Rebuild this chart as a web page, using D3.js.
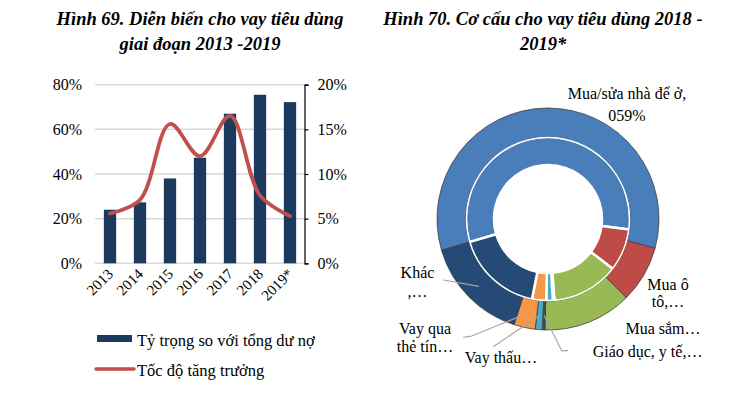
<!DOCTYPE html>
<html><head><meta charset="utf-8">
<script src="https://cdn.jsdelivr.net/npm/d3@7/dist/d3.min.js"></script>
<style>
body{margin:0;background:#fff;}
svg{display:block;font-family:"Liberation Serif","Times New Roman",serif;}
</style></head>
<body><svg id="c" width="750" height="403"></svg>
<script>
// ---------- data ----------
const years = ["2013","2014","2015","2016","2017","2018","2019*"];
const shareValues = [24, 27.3, 38, 47.3, 67, 75.5, 72.2];      // % of total credit (left axis)
const growthValues = [5.6, 7.1, 15.6, 12.0, 16.5, 7.6, 5.3];   // growth rate (right axis)
const leftTicks = [0, 20, 40, 60, 80];
const rightTicks = [0, 5, 10, 15, 20];
const seriesNames = ["Tỷ trọng so với tổng dư nợ", "Tốc độ tăng trưởng"];

const segments = ["Mua/sửa nhà để ở","Mua ô tô","Mua sắm","Giáo dục, y tế","Vay thấu chi","Vay qua thẻ tín dụng","Khác"];
const outer2019 = [58.8, 8.3, 12.9, 0.4, 1.0, 3.1, 15.5];
const inner2018 = [56.6, 8.4, 13.3, 0.3, 1.3, 2.8, 17.3];
const segColors = ["#4A7EBB","#BE4B48","#98B954","#4A4A5C","#4BACC6","#F79646","#254A76"];
const labelLines = [["Mua/sửa nhà để ở,","059%"],["Mua ô","tô,…"],["Mua sắm…"],["Giáo dục, y tế,…"],["Vay thấu…"],["Vay qua","thẻ tín…"],["Khác",",…"]];

// ---------- layout ----------
const svg = d3.select("#c");
const navy = "#1C3A5E", red = "#C0504D";

// Titles
const t1 = svg.append("g").attr("font-weight","bold").attr("font-style","italic").attr("font-size",18.5).attr("text-anchor","middle").attr("fill","#000");
t1.append("text").attr("x",200).attr("y",25).text("Hình 69. Diễn biến cho vay tiêu dùng");
t1.append("text").attr("x",200).attr("y",50).text("giai đoạn 2013 -2019");
t1.append("text").attr("x",543).attr("y",25).text("Hình 70. Cơ cấu cho vay tiêu dùng 2018 -");
t1.append("text").attr("x",543).attr("y",50).text("2019*");

// ---------- left chart ----------
const x = d3.scaleBand().domain(years).range([95, 305]).paddingInner(0.59).paddingOuter(0.295);
const yL = d3.scaleLinear().domain([0, 80]).range([263.3, 84.7]);
const yR = d3.scaleLinear().domain([0, 20]).range([263.3, 84.7]);

// gridlines
svg.append("g").selectAll("line").data(leftTicks).join("line")
  .attr("x1",95).attr("x2",304).attr("y1",d=>yL(d)).attr("y2",d=>yL(d))
  .attr("stroke","#D9D9D9").attr("stroke-width",1.5);

// left axis
const gL = svg.append("g").attr("transform","translate(88,0)")
  .call(d3.axisLeft(yL).tickValues(leftTicks).tickSize(0).tickPadding(6).tickFormat(d=>d+"%"));
gL.select(".domain").remove();
gL.selectAll("text").attr("font-family","Liberation Serif").attr("font-size",16).attr("fill","#000");

// right axis
const gR = svg.append("g").attr("transform","translate(304.5,0)")
  .call(d3.axisRight(yR).tickValues(rightTicks).tickSize(4).tickSizeOuter(4).tickPadding(9).tickFormat(d=>d+"%"));
gR.select(".domain").attr("stroke","#000").attr("stroke-width",1.2);
gR.selectAll(".tick line").attr("stroke","#000").attr("stroke-width",1.2);
gR.selectAll("text").attr("font-family","Liberation Serif").attr("font-size",16).attr("fill","#000");

// bars
svg.append("g").selectAll("rect").data(shareValues).join("rect")
  .attr("x",(d,i)=>x(years[i])).attr("width",x.bandwidth())
  .attr("y",d=>yL(d)).attr("height",d=>yL(0)-yL(d)).attr("fill",navy);

// x labels
svg.append("g").selectAll("text").data(years).join("text")
  .attr("transform",d=>`translate(${x(d)+x.bandwidth()/2+4},${275}) rotate(-45)`)
  .attr("text-anchor","end").attr("font-size",15).attr("fill","#000").text(d=>d);

// line
const line = d3.line().x((d,i)=>x(years[i])+x.bandwidth()/2).y(d=>yR(d)).curve(d3.curveCatmullRom.alpha(0.5));
svg.append("path").datum(growthValues).attr("d",line).attr("fill","none")
  .attr("stroke",red).attr("stroke-width",3.8).attr("stroke-linecap","round");

// legend
svg.append("rect").attr("x",97).attr("y",335).attr("width",35).attr("height",7).attr("fill",navy);
svg.append("text").attr("x",137).attr("y",346).attr("font-size",16.5).text(seriesNames[0]);
svg.append("line").attr("x1",96).attr("x2",134).attr("y1",369).attr("y2",369).attr("stroke",red).attr("stroke-width",3.5).attr("stroke-linecap","round");
svg.append("text").attr("x",137).attr("y",375.5).attr("font-size",16.5).text(seriesNames[1]);

// ---------- donut ----------
const cx = 548, cy = 219;
const start = 253.6 * Math.PI / 180;
const pie = d3.pie().sort(null).startAngle(start).endAngle(start + 2*Math.PI);
const dg = svg.append("g").attr("transform",`translate(${cx},${cy})`);

const arcOuter = d3.arc().innerRadius(82).outerRadius(111);
const arcInner = d3.arc().innerRadius(54).outerRadius(82);

dg.append("g").selectAll("path").data(pie(inner2018)).join("path")
  .attr("d",arcInner).attr("fill",(d,i)=>segColors[i])
  .attr("stroke","#fff").attr("stroke-width",2.5).attr("stroke-linejoin","round");
const outerArcs = pie(outer2019);
dg.append("g").selectAll("path").data(outerArcs).join("path")
  .attr("d",arcOuter).attr("fill",(d,i)=>segColors[i])
  .attr("stroke","#3F3F3F").attr("stroke-width",0.8);
dg.append("circle").attr("r",81.6).attr("fill","none").attr("stroke","#fff").attr("stroke-width",1.2);

// labels (layout positions)
const labelPos = [[627,99],[668,289.5],[663,334],[647.5,356.5],[501,362.5],[425,333.5],[417.5,277.5]];
const lineGap = [22,17,0,0,0,18,19];
const leaderPts = [null,null,null,[[568.3,350.7],[561.7,350.7]],[[493.3,346.7]],[[463.3,337.3],[471.7,336]],[[443.3,280]]];

const lg = svg.append("g").attr("font-size",16).attr("text-anchor","middle").attr("fill","#000");
labelLines.forEach((lines,i)=>{
  lines.forEach((s,j)=>{
    lg.append("text").attr("x",labelPos[i][0]).attr("y",labelPos[i][1]+j*lineGap[i]).text(s);
  });
  if (leaderPts[i]) {
    const c = arcOuter.centroid(outerArcs[i]);
    const pts = leaderPts[i].concat([[cx+c[0], cy+c[1]]]);
    svg.append("path").attr("d",d3.line()(pts)).attr("fill","none").attr("stroke","#A6A6A6").attr("stroke-width",1.2);
  }
});
</script></body></html>
